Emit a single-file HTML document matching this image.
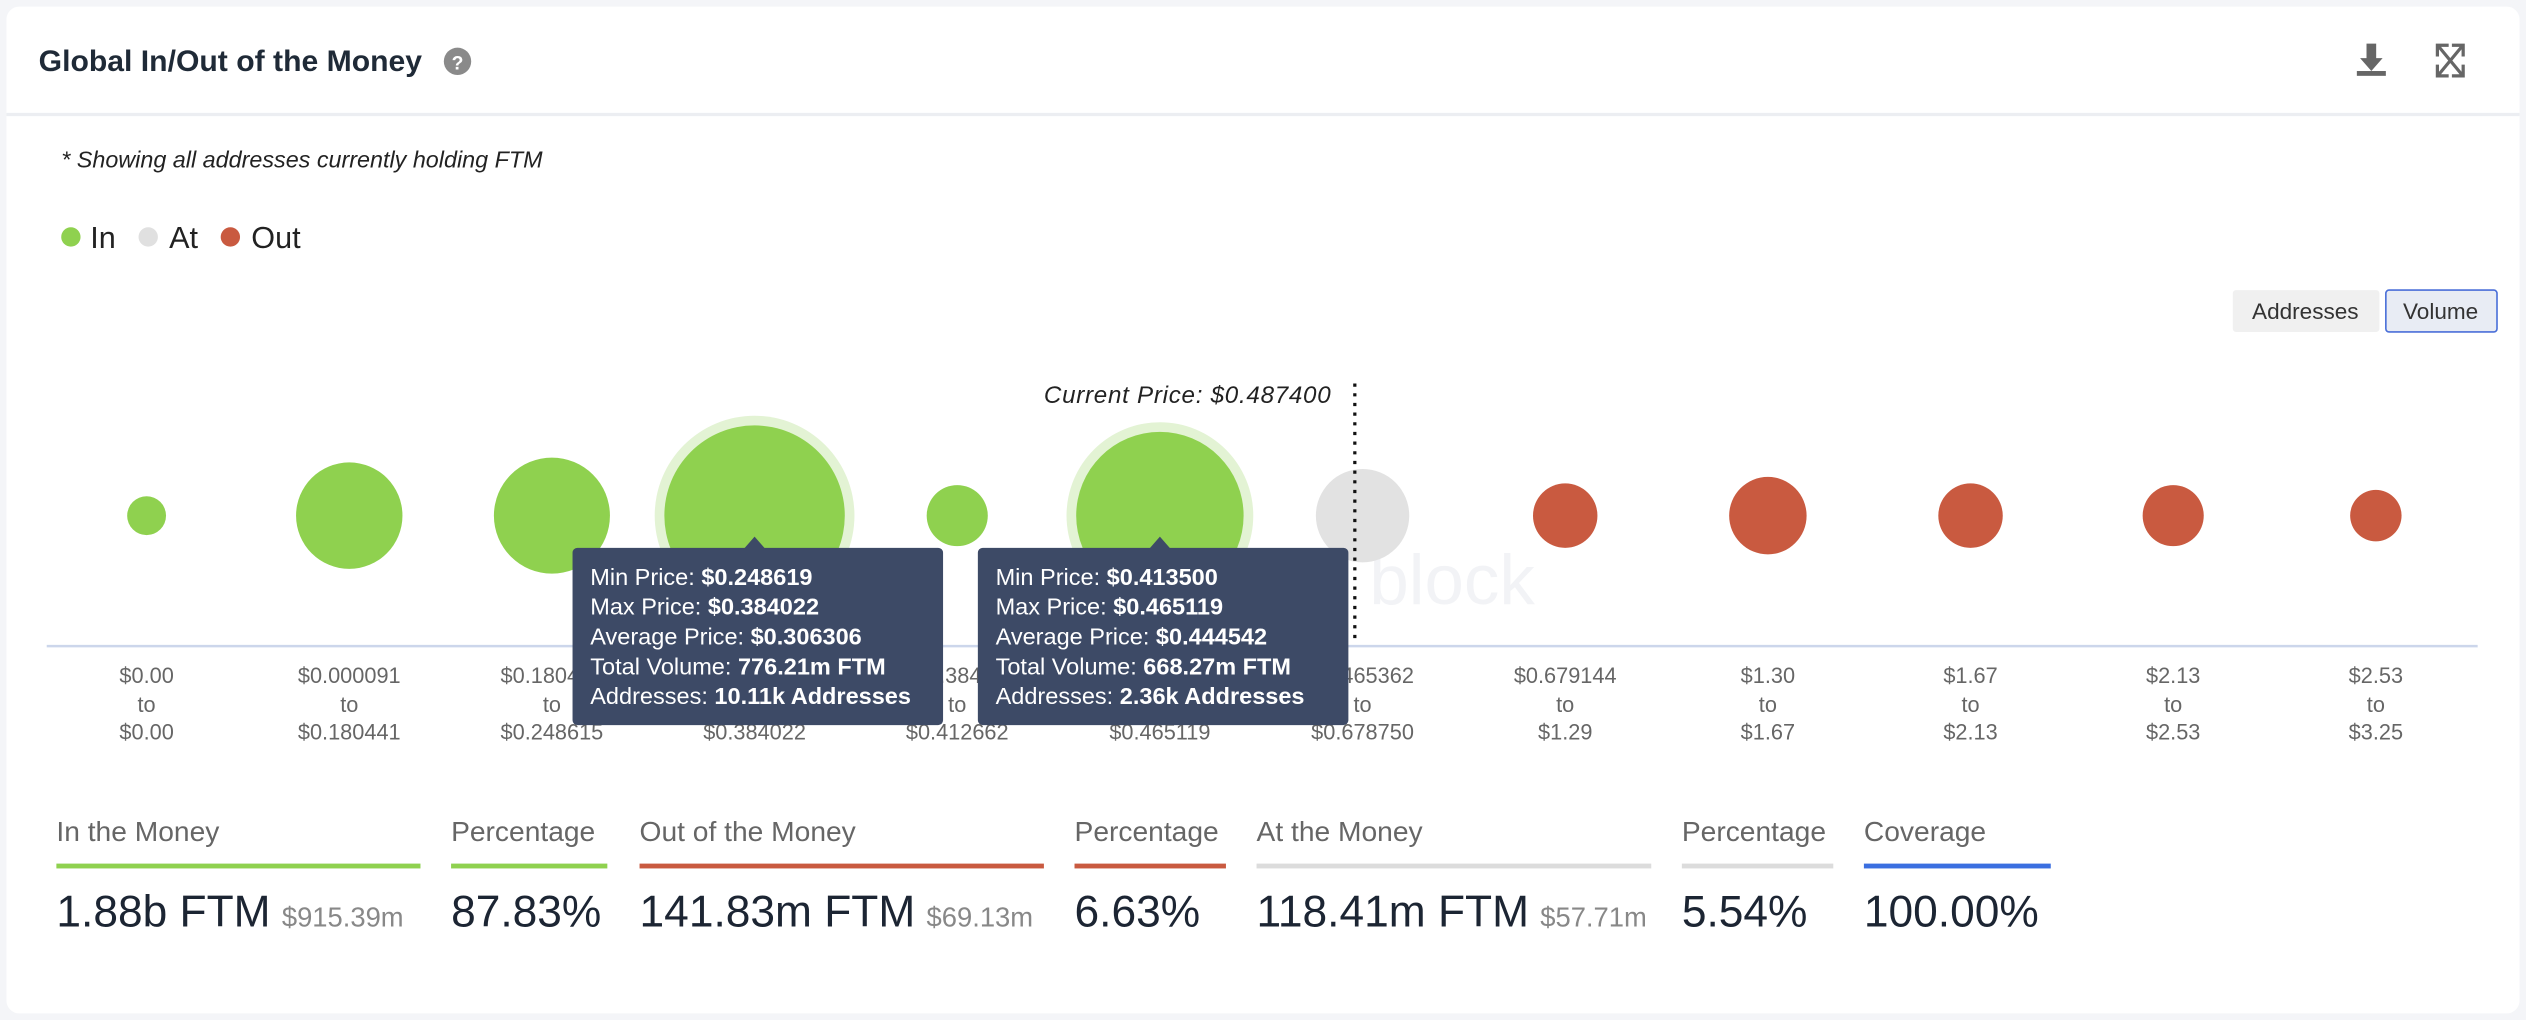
<!DOCTYPE html>
<html><head><meta charset="utf-8"><style>
html,body{margin:0;padding:0;background:#f4f5f8;}
svg{display:block;font-family:"Liberation Sans",sans-serif;}
</style></head><body>
<svg id="chart" width="2526" height="1020" viewBox="0 0 1568 633" xmlns="http://www.w3.org/2000/svg">
<rect x="0" y="0" width="1568" height="633" fill="#f4f5f8"/>
<rect x="4" y="4" width="1560" height="625" rx="8" fill="#ffffff"/>
<line x1="4" y1="71" x2="1564" y2="71" stroke="#eceef2" stroke-width="2"/>
<text x="24" y="44" font-size="18.5" font-weight="bold" fill="#1f2a37" textLength="238" lengthAdjust="spacingAndGlyphs">Global In/Out of the Money</text>
<g><circle cx="284" cy="38" r="8.5" fill="#8a8a8a"/><text x="284" y="43" font-size="12" font-weight="bold" fill="#fff" text-anchor="middle">?</text></g>
<g fill="#666"><rect x="1469" y="27" width="6" height="10"/><polygon points="1465,36 1479,36 1472,44"/><rect x="1463" y="44" width="18" height="3"/></g>
<g stroke="#666" stroke-width="2" fill="none"><path d="M1513 35v-7h7M1529 35v-7h-7M1513 40v7h7M1529 40v7h-7M1514 29l14 17M1528 29l-14 17"/></g>
<text x="38" y="104" font-size="14.5" font-style="italic" fill="#222">* Showing all addresses currently holding FTM</text>
<g>
<g><circle cx="44" cy="147" r="6" fill="#8fd14f"/><text x="56" y="154" font-size="19" fill="#222">In</text></g>
<g><circle cx="92" cy="147" r="6" fill="#e0e0e0"/><text x="105" y="154" font-size="19" fill="#222">At</text></g>
<g><circle cx="143" cy="147" r="6" fill="#c95a40"/><text x="156" y="154" font-size="19" fill="#222">Out</text></g>
</g>
<g><rect x="1386" y="180" width="91" height="26" rx="2" fill="#f0f0f0"/><text x="1431" y="198" font-size="14" fill="#333" text-anchor="middle">Addresses</text></g>
<g><rect x="1481" y="180" width="69" height="26" rx="2" fill="#e8ecf4" stroke="#4a6fd8"/><text x="1515" y="198" font-size="14" fill="#333" text-anchor="middle">Volume</text></g>
<text x="850" y="375" font-size="44" fill="#f2f3f6">block</text>
<line x1="29" y1="401" x2="1538" y2="401" stroke="#ccd6eb" stroke-width="1.5"/>
<g id="bubbles"></g>
<g id="labels"></g>
<line x1="841" y1="238" x2="841" y2="400" stroke="#111" stroke-width="2" stroke-dasharray="2,4"/>
<text x="826" y="250" font-size="15" font-style="italic" fill="#222" text-anchor="end" textLength="178">Current Price: $0.487400</text>
<g id="tooltips"></g>
<g id="summary"></g>
</svg>
<script>
const NS="http://www.w3.org/2000/svg";
const categoriesFrom=["$0.00","$0.000091","$0.180441","$0.248619","$0.384...","$0.413500","$0.465362","$0.679144","$1.30","$1.67","$2.13","$2.53"];
const categoriesTo=["$0.00","$0.180441","$0.248615","$0.384022","$0.412662","$0.465119","$0.678750","$1.29","$1.67","$2.13","$2.53","$3.25"];
const volumes=[36,270,321,776.21,89,668.27,208,99,143,99,89,63];
const status=["in","in","in","in","in","in","at","out","out","out","out","out"];
const highlighted=[3,5];
const colors={in:"#8fd14f",at:"#e2e2e2",out:"#c95a40"};
function xPos(i){return 91+i*125.8;}
function rScale(v){return 2.01*Math.sqrt(v);}
const cy=320;
function mk(tag,attrs,parent){const e=document.createElementNS(NS,tag);for(const k in attrs)e.setAttribute(k,attrs[k]);parent.appendChild(e);return e;}
const bg=document.getElementById('bubbles');
volumes.forEach((v,i)=>{
  const r=rScale(v);
  if(highlighted.includes(i)){
    const h=mk('circle',{cx:xPos(i),cy:cy,r:r+6,fill:"#e3f3d4"},bg);
    
    
  }
  const c=mk('circle',{cx:xPos(i),cy:cy,r:r,fill:colors[status[i]]},bg);
  
  
});
const lg=document.getElementById('labels');
categoriesFrom.forEach((f,i)=>{
  const t=mk('text',{x:xPos(i),"text-anchor":"middle","font-size":13.5,fill:"#666"},lg);
  
  
  [[f,424],["to",442],[categoriesTo[i],459]].forEach(([s,y])=>{const ts=mk('tspan',{x:xPos(i),y:y},t);ts.textContent=s;});
});
const tips=[
 {i:3,rows:[["Min Price: ","$0.248619"],["Max Price: ","$0.384022"],["Average Price: ","$0.306306"],["Total Volume: ","776.21m FTM"],["Addresses: ","10.11k Addresses"]]},
 {i:5,rows:[["Min Price: ","$0.413500"],["Max Price: ","$0.465119"],["Average Price: ","$0.444542"],["Total Volume: ","668.27m FTM"],["Addresses: ","2.36k Addresses"]]}
];
const tg=document.getElementById('tooltips');
tips.forEach(tp=>{
  const cx=xPos(tp.i);const x0=cx-113;
  const g=mk('g',{},tg);
  
  
  mk('rect',{x:x0,y:340,width:230,height:110,rx:3,fill:"#3d4a66"},g);
  mk('polygon',{points:`${cx-7},341 ${cx+7},341 ${cx},333`,fill:"#3d4a66"},g);
  tp.rows.forEach((r,k)=>{
    const t=mk('text',{x:x0+11,y:363+k*18.5,"font-size":14.6,fill:"#fff"},g);
    const a=mk('tspan',{},t);a.textContent=r[0];
    const b=mk('tspan',{"font-weight":"bold"},t);b.textContent=r[1];
  });
});
const sumLabels=["In the Money","Percentage","Out of the Money","Percentage","At the Money","Percentage","Coverage"];
const sumValues=["1.88b FTM","87.83%","141.83m FTM","6.63%","118.41m FTM","5.54%","100.00%"];
const sumSub=["$915.39m","","$69.13m","","$57.71m","",""];
const sumX=[35,280,397,667,780,1044,1157];
const sumW=[226,97,251,94,245,94,116];
const sumC=["#8fd14f","#8fd14f","#c95a40","#c95a40","#dcdcdc","#dcdcdc","#3b6fe0"];
const sg=document.getElementById('summary');
sumLabels.forEach((l,i)=>{
  const g=mk('g',{},sg);
  
  
  const t=mk('text',{x:sumX[i],y:522,"font-size":17.5,fill:"#666"},g);t.textContent=l;
  mk('rect',{x:sumX[i],y:536,width:sumW[i],height:3,fill:sumC[i]},g);
  const v=mk('text',{x:sumX[i],y:575,"font-size":27.5,fill:"#1c2533"},g);
  const a=mk('tspan',{},v);a.textContent=sumValues[i];
  if(sumSub[i]){const b=mk('tspan',{"font-size":17,fill:"#888",dx:7},v);b.textContent=sumSub[i];}
});
</script>
</body></html>
